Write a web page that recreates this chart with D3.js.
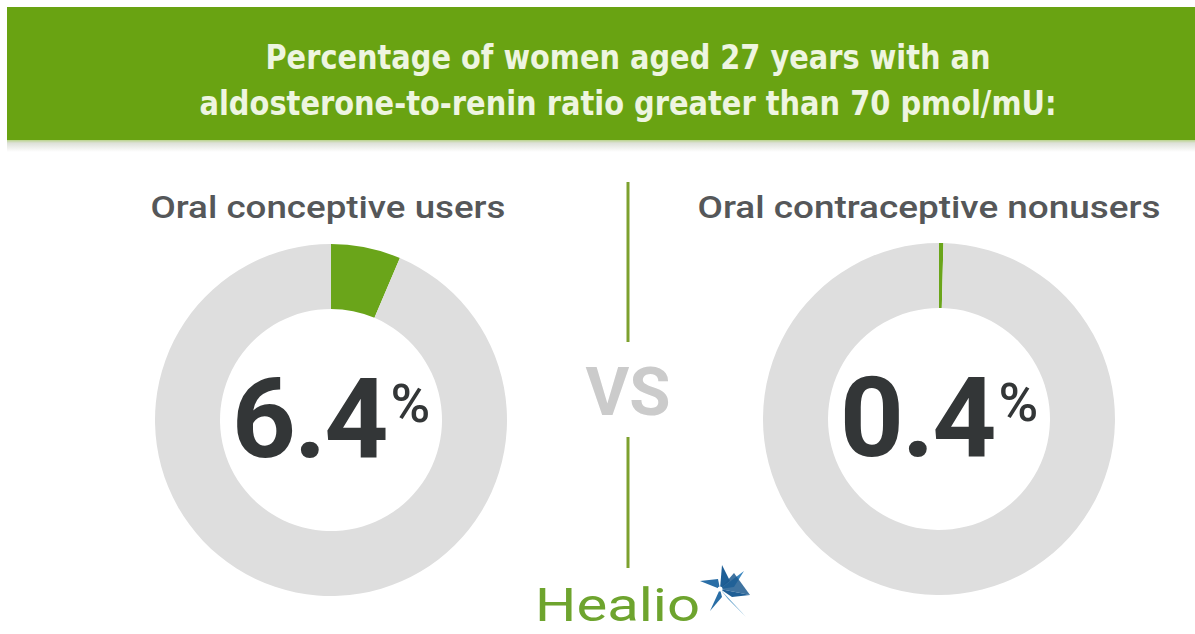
<!DOCTYPE html>
<html><head><meta charset="utf-8">
<script src="https://cdn.jsdelivr.net/npm/d3@7"></script>
<style>html,body{margin:0;padding:0;background:#fff;}svg{display:block;}</style>
</head><body>
<svg id="c" width="1195" height="634"></svg>
<script>
const titleLines = ["Percentage of women aged 27 years with an", "aldosterone-to-renin ratio greater than 70 pmol/mU:"];
const groups = ["Oral conceptive users", "Oral contraceptive nonusers"];
const percents = [6.4, 0.4];
const valueLabels = ["6.4", "0.4"];
const brand = "Healio";
const vsLabel = "VS";

const svg = d3.select("#c");
const W = 1195, H = 634;

// header
const defs = svg.append("defs");
const g1 = defs.append("linearGradient").attr("id","shadow").attr("x1",0).attr("y1",0).attr("x2",0).attr("y2",1);
g1.append("stop").attr("offset","0%").attr("stop-color","#b9d48a");
g1.append("stop").attr("offset","25%").attr("stop-color","#dde0d8");
g1.append("stop").attr("offset","100%").attr("stop-color","#ffffff");
svg.append("rect").attr("x",7).attr("y",7).attr("width",W-7).attr("height",133).attr("fill","#69a312");
svg.append("rect").attr("x",7).attr("y",140).attr("width",W-7).attr("height",12).attr("fill","url(#shadow)");

const titleY = [69, 115];
const titleW = [725, 857];
svg.selectAll("text.title").data(titleLines).join("text")
  .attr("class","title")
  .attr("x", 628).attr("y",(d,i)=>titleY[i])
  .attr("text-anchor","middle")
  .attr("textLength",(d,i)=>titleW[i]).attr("lengthAdjust","spacingAndGlyphs")
  .style("font-family","'Liberation Sans Narrow','DejaVu Sans Condensed',Roboto,sans-serif")
  .style("font-weight","bold").style("font-size","34px")
  .attr("fill","#eef5e0")
  .text(d=>d);

// donuts
const centers = [[331,420],[939,419]];
const labelX = [328, 929];
const labelW = [355, 463];
const outerR = 176, innerR = 111;
const pie = d3.pie().sort(null).value(d=>d);
const arc = d3.arc().innerRadius(innerR).outerRadius(outerR);
const colors = ["#6aa51a","#dedede"];

groups.forEach((name,i)=>{
  const g = svg.append("g").attr("transform",`translate(${centers[i][0]},${centers[i][1]})`);
  g.selectAll("path").data(pie([percents[i], 100-percents[i]])).join("path")
    .attr("d",arc).attr("fill",(d,j)=>colors[j]);
  const t = g.append("text").attr("x",0).attr("y",37).attr("text-anchor","middle")
    .style("font-family","Roboto,sans-serif").style("font-weight","bold").attr("fill","#333637");
  t.append("tspan").style("font-size","112px").attr("letter-spacing","-2px").text(valueLabels[i]);
  t.append("tspan").style("font-size","54px").style("font-weight","500").attr("dx",4).attr("dy",-35).text("%");
  svg.append("text").attr("x",labelX[i]).attr("y",218).attr("text-anchor","middle")
    .attr("textLength",labelW[i]).attr("lengthAdjust","spacingAndGlyphs")
    .style("font-family","Roboto,sans-serif").style("font-weight","500").style("font-size","32px").attr("fill","#555759")
    .text(name);
});

// divider + VS
svg.append("line").attr("x1",628).attr("x2",628).attr("y1",182).attr("y2",342).attr("stroke","#7da12e").attr("stroke-width",3);
svg.append("line").attr("x1",628).attr("x2",628).attr("y1",437).attr("y2",568).attr("stroke","#7da12e").attr("stroke-width",3);
svg.append("text").attr("x",628).attr("y",415).attr("text-anchor","middle")
  .style("font-family","Roboto,sans-serif").style("font-weight","bold").style("font-size","67px")
  .attr("fill","#cbcbcb").text(vsLabel);

// logo
svg.append("text").attr("x",535).attr("y",621).attr("textLength",165).attr("lengthAdjust","spacingAndGlyphs")
  .style("font-family","Roboto,sans-serif").style("font-size","47px").attr("fill","#6ea42e").text(brand);
const star = svg.append("g").attr("transform","translate(724,591)");
// blue facets of the star
const facets = [
  "M-4,-2L-24,-10L-6,-12Z",
  "M-4,-2L-2,-26L6,-10Z",
  "M-4,-2L20,-20L10,-4Z",
  "M-4,-2L26,4L8,6Z",
  "M-4,-2L22,26L4,8Z",
  "M-4,-2L-14,20L-2,6Z"
];
const facetCol = ["#2a6ea6","#1f5f96","#3b86bf","#1f5f96","#5a9bc8","#2a6ea6"];
star.selectAll("path").data(facets).join("path").attr("d",d=>d).attr("fill",(d,i)=>facetCol[i]);
star.append("path").attr("d","M-4,-2L10,-18L26,4Z").attr("fill","#1d5a8f").attr("opacity",0.85);
star.append("circle").attr("cx",-4).attr("cy",-2).attr("r",2.5).attr("fill","#fff");
</script>
</body></html>
